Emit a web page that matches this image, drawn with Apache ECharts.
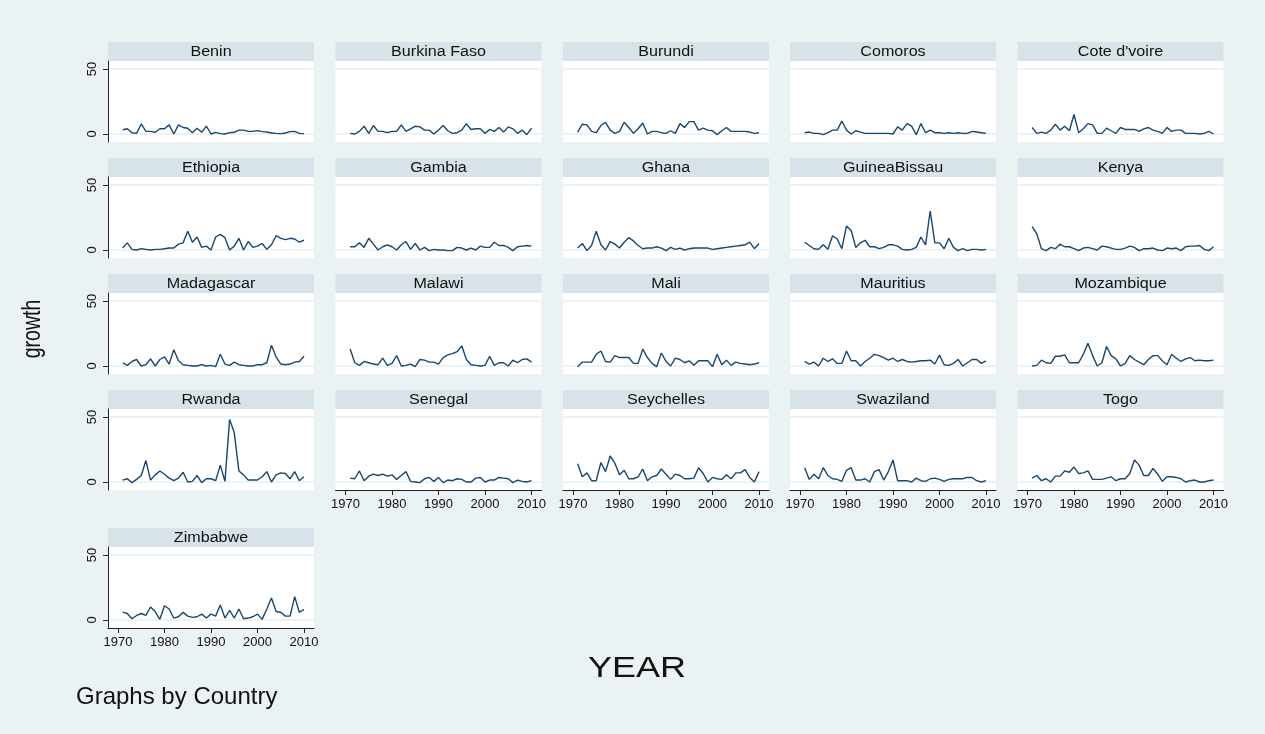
<!DOCTYPE html>
<html>
<head>
<meta charset="utf-8">
<script src="https://cdn.jsdelivr.net/npm/echarts@6/dist/echarts.min.js"></script>
<style>
  html, body { margin: 0; padding: 0; background: #ffffff; }
  #chart { width: 1265px; height: 734px; }
</style>
</head>
<body>
<div id="chart"></div>
<script>
// Annual growth by country, 1971-2010
const years = [1971, 1972, 1973, 1974, 1975, 1976, 1977, 1978, 1979, 1980,
               1981, 1982, 1983, 1984, 1985, 1986, 1987, 1988, 1989, 1990,
               1991, 1992, 1993, 1994, 1995, 1996, 1997, 1998, 1999, 2000,
               2001, 2002, 2003, 2004, 2005, 2006, 2007, 2008, 2009, 2010];

const countries = ['Benin', 'Burkina Faso', 'Burundi', 'Comoros', "Cote d'voire",
                   'Ethiopia', 'Gambia', 'Ghana', 'GuineaBissau', 'Kenya',
                   'Madagascar', 'Malawi', 'Mali', 'Mauritius', 'Mozambique',
                   'Rwanda', 'Senegal', 'Seychelles', 'Swaziland', 'Togo',
                   'Zimbabwe'];

const benin       = [3.3, 4, 1, 0.5, 7.7, 2, 2, 1.3, 4, 4, 7, 0, 7, 5, 4.4, 1, 4.5, 1.3, 6, 0, 1.3, 0.3, 0, 1, 1.3, 3, 3, 2, 2, 2.6, 1.8, 1.5, 0.8, 0.5, 0.3, 0.8, 1.8, 2, 0.5, 0.3];
const burkinaFaso = [0.5, 0, 2, 6, 0.5, 6.5, 2, 2, 1, 2, 2, 7, 2, 4, 6, 5.5, 3, 3, 0, 3, 6.5, 2.5, 0.5, 1, 3, 8, 3.5, 4, 4, 0.5, 3.5, 2, 5, 1.5, 5.5, 4, 0.5, 3, -0.5, 4.5];
const burundi     = [1.5, 7.5, 7, 2, 1, 6.5, 9, 3, 0.5, 2, 9, 5, 0.5, 4, 8.5, 0, 2, 2, 1, 0.5, 2.5, 0.5, 8, 5, 9.5, 9.5, 3, 4.5, 3, 2.5, -0.5, 2.5, 5, 2, 2, 2, 2, 1.5, 0.5, 1];
const comoros     = [1, 1.5, 0.5, 0.5, -0.5, 1, 3, 3, 10, 3, 0, 2.5, 1.5, 0.5, 0.5, 0.5, 0.5, 0.5, 0.5, 0, 5.5, 3, 8, 6, -0.5, 8, 1, 3, 1, 1, 0.5, 1, 0.5, 1, 0.5, 0.5, 2, 1.5, 1, 0.5];
const coteDIvoire = [5, 0.5, 1.5, 0.5, 3, 7.5, 3, 6, 2.5, 15, 1, 4, 8, 7, 0.5, 0.5, 4.5, 2.5, 0.5, 5, 3.5, 3.5, 3.5, 2, 4, 5, 3, 2, 0.5, 5, 2, 3, 3, 0.5, 0.5, 0.5, 0, 0.5, 2, 0];
const ethiopia    = [1.5, 5.5, 0.5, 0, 1, 0.5, 0, 0.5, 0.5, 1, 1.5, 1.5, 4.5, 5.5, 14.5, 6, 10, 2, 3, 0, 10, 12, 9.5, 0, 3, 9, 0, 6.5, 2, 3, 5, 0.5, 4, 11, 9, 8, 9, 8.5, 6, 7.5];
const gambia      = [2.5, 2.5, 5.5, 2, 9, 4.5, 0, 2.5, 4, 2.5, 0, 4, 6.5, 0.5, 5, 0, 2, -0.5, 0.5, 0, 0, -0.5, -0.5, 2, 1.5, 0, 1.5, 0, 3, 2, 2, 6, 3.5, 3.5, 2, -0.5, 2.5, 3, 3.5, 3];
const ghana       = [1.5, 5, -0.5, 3.5, 14.5, 4, 0, 6.5, 4.5, 1.5, 6, 9.5, 7, 3.5, 1, 1.5, 1.5, 2.5, 1.5, -0.5, 2, 0.5, 1.5, 0, 1, 1.5, 1.5, 1.5, 1.5, 0.5, 1, 1.5, 2, 2.5, 3, 3.5, 4, 6, 1, 5];
const guineaBissau = [6, 3.5, 1, 0.5, 4, 0.5, 11, 8.5, 1, 18.5, 15, 2, 5.5, 7.5, 2.5, 2.5, 1, 2, 4, 4, 3, 0.5, 0, 0.5, 2, 10, 4, 30, 5.5, 5.5, 1, 9, 2, -0.5, 1, -0.5, 0.5, 0.5, 0, 0.5];
const kenya       = [18, 12.5, 1, -0.5, 2, 1, 4.5, 2.5, 2.5, 1, -0.5, 1.5, 2, 1, 0, 3, 2.5, 1.5, 0.5, 0.5, 1.5, 3, 2, -0.5, 1, 1, 1.5, 0, -0.5, 1.5, 1, 1.5, -0.5, 2.5, 3, 3, 3.5, 0.5, -0.5, 2.5];
const madagascar  = [2.5, 0.5, 3.5, 5, 0, 1, 5.5, 0, 5, 7, 1.5, 12.5, 4, 1, 0.5, 0, 0, 1, 0, 0.5, -0.5, 9, 1.5, 0.5, 3, 1, 0.5, 0, 0, 1, 1, 2.5, 16, 7, 1.5, 1, 1.5, 3, 3.5, 7.5];
const malawi      = [13, 2.5, 0.5, 3.5, 2.5, 1.5, 1, 6, 0.5, 2, 8, 0, 0.5, 1.5, -0.5, 5, 4.5, 3, 3, 1.5, 6.5, 8.5, 9.5, 11, 15.5, 5, 1, 0.5, 0, 0.5, 7.5, 0.5, 2.5, 2.5, 0, 4.5, 2.5, 5, 5.5, 3];
const mali        = [-0.5, 3, 3, 3, 9, 11.5, 3.5, 3, 8, 6.5, 6.5, 6.5, 2, 2, 13, 6.5, 2, -0.5, 10, 3.5, 0, 6, 5, 2.5, 4, 0.5, 4, 4, 4, -0.5, 9, 1, 4.5, 0.5, 3, 2, 1.5, 1, 1.5, 2.5];
const mauritius   = [3.5, 1.5, 3, 0, 6, 3.5, 5.5, 2, 2, 11.5, 4, 4, 0, 3.5, 6, 9, 8, 6.5, 4.5, 6, 3.5, 5, 3.5, 3, 3.5, 4, 4, 4.5, 1.5, 8.5, 1, 0.5, 2, 5, 0, 2.5, 5, 5, 2, 4];
const mozambique  = [0, 0.5, 4.5, 2.5, 2, 7.5, 7.5, 8.5, 2.5, 2.5, 2.5, 9, 17.5, 8, 0, 2.5, 15, 8, 5.5, 0, 2, 8, 5, 3, 1, 5, 8, 8, 4, 1, 9, 6, 3.5, 5.5, 6.5, 4, 4.5, 4, 4, 4.5];
const rwanda      = [1.5, 2.5, -0.5, 2, 5, 16.5, 1.5, 5.5, 8.5, 6, 3, 1, 3, 7.5, 0, 0.5, 5, -0.5, 2.5, 2.5, 1, 13, 0.5, 48, 38, 8.5, 5.5, 1.5, 1.5, 1.5, 4, 8, 0, 5.5, 7, 6.5, 2.5, 8, 1, 4];
const senegal     = [3, 2.5, 8.5, 1, 4.5, 6, 5, 6, 4.5, 5.5, 2, 5, 8, 0.5, 0, -0.5, 2.5, 3.5, 0.5, 3.5, -0.5, 1.5, 1, 2.5, 2, 0, 0, 3, 3.5, 0, 1.5, 1.5, 3.5, 3, 2.5, -0.5, 1.5, 0.5, 0, 1];
const seychelles  = [14, 4, 7, 1, 1, 15, 8, 20, 14.5, 5.5, 9, 2.5, 2.5, 4, 10, 1, 4, 5, 10, 6, 2, 6, 5, 2.5, 2.5, 3, 11, 6.5, 0, 3.5, 2.5, 2, 5.5, 2.5, 7, 7, 9.5, 3.5, 0, 8];
const swaziland   = [11, 2, 6, 2.5, 11, 5, 2.5, 2, 0.5, 9, 11, 1.5, 1.5, 2.5, 0, 8, 9.5, 1.5, 8, 17, 1, 1, 1, 0, 3, 1, 0.5, 2.5, 3, 2, 0.5, 2, 2.5, 2.5, 2.5, 3.5, 3.5, 1, 0, 1];
const togo        = [3, 5, 1, 2.5, 0, 4.5, 4.5, 8.5, 7.5, 11.5, 6.5, 7, 8.5, 2, 2, 2, 3, 4, 1, 2.5, 2.5, 6.5, 17, 13, 5, 5, 10.5, 6, 0.5, 4, 4, 3.5, 2.5, 0, 1, 1.5, 0, 0, 1, 1.5];
const zimbabwe    = [6, 5, 1, 3.5, 5, 3.5, 10, 6.5, 0.5, 11, 8.5, 1.5, 2.5, 6, 3, 2, 2.5, 4.5, 1.5, 4.5, 3, 11.5, 1.5, 7.5, 1.5, 8.5, 1, 1.5, 2.5, 4.5, 0.5, 8.5, 17, 6.5, 6, 3, 3, 18, 6, 8];

const growthSeries = [benin, burkinaFaso, burundi, comoros, coteDIvoire,
                      ethiopia, gambia, ghana, guineaBissau, kenya,
                      madagascar, malawi, mali, mauritius, mozambique,
                      rwanda, senegal, seychelles, swaziland, togo,
                      zimbabwe];

const yTickValues = [0, 50];
const xTickValues = [1970, 1980, 1990, 2000, 2010];

// Panel geometry (pixels)
const NCOLS = 5;
const colLeft = [108, 335.5, 563, 790, 1017.5];
const rowTop = [42, 158, 274, 390, 528];
const panelW = 206;
const stripH = 19;
const plotH = 81;
const xInset = 10;   // gap between plot edge and first/last x tick
const yInset = 8;    // gap between plot edge and first/last y tick

const FONT = "'Liberation Sans', Arial, Helvetica, sans-serif";
const NAVY = '#1a476f';
const GRID_LINE = '#e7eff1';
const STRIP = '#d8e3e9';
const BG = '#eaf2f3';

// axis ranges chosen so the outer ticks sit a fixed inset from the plot edge
const xSpan = xTickValues[xTickValues.length - 1] - xTickValues[0];
const xPerPx = xSpan / (panelW - 2 * xInset);
const xMin = xTickValues[0] - xInset * xPerPx;
const xMax = xTickValues[xTickValues.length - 1] + xInset * xPerPx;
const ySpan = yTickValues[1] - yTickValues[0];
const yPerPx = ySpan / (plotH - 2 * yInset);
const yMin = yTickValues[0] - yInset * yPerPx;
const yMax = yTickValues[1] + yInset * yPerPx;

const n = countries.length;
const grids = [], xAxes = [], yAxes = [], series = [], graphics = [];

// bottom panel of each column carries the year axis
function isBottomOfColumn(i) {
  return i + NCOLS >= n;
}

for (let i = 0; i < n; i++) {
  const col = i % NCOLS;
  const row = Math.floor(i / NCOLS);
  const left = colLeft[col];
  const top = rowTop[row];

  grids.push({
    left: left, top: top + stripH, width: panelW, height: plotH,
    show: true, backgroundColor: '#ffffff', borderWidth: 0
  });

  const showX = isBottomOfColumn(i);
  xAxes.push({
    type: 'value', gridIndex: i, min: xMin, max: xMax,
    show: showX,
    axisLine: { show: showX, onZero: false, lineStyle: { color: '#222', width: 1 } },
    axisTick: { show: showX, length: 5, customValues: xTickValues, lineStyle: { color: '#222', width: 1 } },
    axisLabel: { show: showX, customValues: xTickValues, margin: 8, color: '#111',
                 fontFamily: FONT, fontSize: 13, formatter: (v) => String(v) },
    splitLine: { show: false }
  });

  const showY = col === 0;
  yAxes.push({
    type: 'value', gridIndex: i, min: yMin, max: yMax,
    axisLine: { show: showY, lineStyle: { color: '#222', width: 1 } },
    axisTick: { show: showY, length: 5, customValues: yTickValues, lineStyle: { color: '#222', width: 1 } },
    axisLabel: { show: showY, customValues: yTickValues, rotate: 90, margin: 9,
                 color: '#111', fontFamily: FONT, fontSize: 13, formatter: (v) => String(v) },
    splitLine: { show: true, lineStyle: { color: GRID_LINE, width: 1.5 } }
  });

  series.push({
    type: 'line', name: countries[i], xAxisIndex: i, yAxisIndex: i,
    data: years.map((yr, j) => [yr, growthSeries[i][j]]),
    symbol: 'none', showSymbol: false, silent: true,
    lineStyle: { color: NAVY, width: 1.4 },
    z: 3
  });

  // title strip above each panel
  graphics.push({
    type: 'rect', silent: true,
    shape: { x: left, y: top, width: panelW, height: stripH },
    style: { fill: STRIP }
  });
  graphics.push({
    type: 'text', silent: true,
    x: left + panelW / 2, y: top + stripH / 2 + 0.5, scaleX: 1.15,
    style: { text: countries[i], fill: '#111', font: '14px ' + FONT,
             textAlign: 'center', textVerticalAlign: 'middle' }
  });
}

// overall titles
graphics.push({
  type: 'text', silent: true, x: 33, y: 329, rotation: Math.PI / 2, scaleX: 0.75,
  style: { text: 'growth', fill: '#111', font: '26px ' + FONT,
           textAlign: 'center', textVerticalAlign: 'middle' }
});
graphics.push({
  type: 'text', silent: true, x: 637, y: 669, scaleX: 1.2,
  style: { text: 'YEAR', fill: '#111', font: '30px ' + FONT,
           textAlign: 'center', textVerticalAlign: 'middle' }
});
graphics.push({
  type: 'text', silent: true, x: 76, y: 697,
  style: { text: 'Graphs by Country', fill: '#111', font: '24px ' + FONT,
           textAlign: 'left', textVerticalAlign: 'middle' }
});

const chart = echarts.init(document.getElementById('chart'), null, { renderer: 'canvas' });
chart.setOption({
  backgroundColor: BG,
  animation: false,
  grid: grids,
  xAxis: xAxes,
  yAxis: yAxes,
  series: series,
  graphic: graphics
});
</script>
</body>
</html>
